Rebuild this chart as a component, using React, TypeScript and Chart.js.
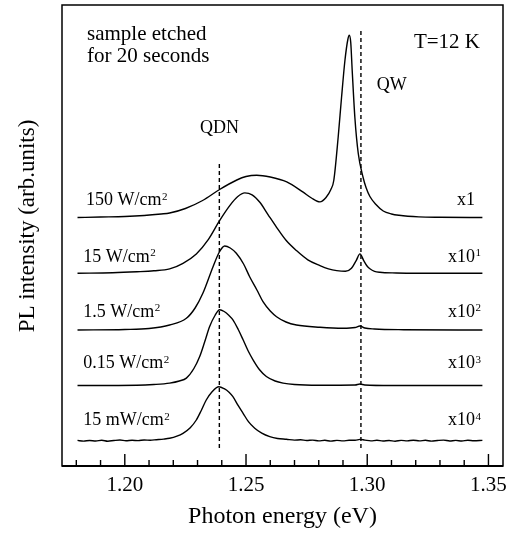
import React, { useEffect, useRef } from "react";
import { Chart, registerables } from "chart.js";

Chart.register(...registerables);

const FONT = '"Liberation Serif", "Times New Roman", Times, serif';

// ---- spectra: photon energy (eV) and PL intensity (arb. units, already multiplied by the factor) ----
const e150 = [1.1805, 1.19, 1.2, 1.208, 1.215, 1.2185, 1.225, 1.2321, 1.2391, 1.2462, 1.25, 1.2544, 1.26, 1.2668, 1.2734, 1.277, 1.2805, 1.283, 1.285, 1.2862, 1.288, 1.2894, 1.2908, 1.292, 1.2926, 1.2932, 1.2938, 1.2949, 1.2963, 1.2983, 1.2995, 1.3011, 1.3036, 1.3066, 1.31, 1.3131, 1.3213, 1.33, 1.3475];
const i150 = [0, 0.5, 1, 2, 3.5, 4.5, 9, 17, 28, 37.5, 41, 42.3, 40.5, 35.6, 25.6, 19.5, 15.6, 20, 28, 37, 80, 120, 157, 178, 182.3, 175, 147, 100, 64, 40, 30, 21, 13, 6.5, 3.5, 2.2, 0.6, 0.2, 0];

const e15 = [1.1805, 1.195, 1.205, 1.212, 1.2185, 1.224, 1.2295, 1.2345, 1.2391, 1.2433, 1.2465, 1.2495, 1.2525, 1.2557, 1.259, 1.2626, 1.2665, 1.2708, 1.2755, 1.2805, 1.284, 1.2874, 1.291, 1.2935, 1.2955, 1.297, 1.2985, 1.3, 1.3011, 1.303, 1.3052, 1.312, 1.32, 1.3475];
const i15 = [0, 0.5, 1.5, 2.5, 4.4, 10, 19.4, 34, 52.7, 67.7, 76.5, 80.4, 78.5, 71, 59, 46, 33, 22.7, 13.5, 7.7, 4.5, 2.7, 2, 5, 13, 19.4, 13, 7, 4.5, 2, 1, 0.3, 0, 0];

const e1p5 = [1.1805, 1.2, 1.21, 1.2185, 1.2254, 1.229, 1.2322, 1.2364, 1.239, 1.2412, 1.2435, 1.246, 1.249, 1.2515, 1.2545, 1.257, 1.26, 1.2626, 1.2665, 1.2708, 1.2805, 1.29, 1.295, 1.297, 1.299, 1.303, 1.315, 1.3475];
const i1p5 = [0, 0.5, 1.5, 5, 11.7, 22, 36.7, 63.3, 78, 84, 82, 76.7, 66, 53.3, 40, 28.3, 19, 13.3, 8, 5, 2.7, 1.7, 2.5, 4, 2, 1, 0.3, 0];

const e0p15 = [1.1805, 1.205, 1.212, 1.2185, 1.2225, 1.2254, 1.2285, 1.2309, 1.233, 1.235, 1.2372, 1.2391, 1.241, 1.243, 1.2446, 1.2468, 1.2488, 1.2508, 1.2529, 1.2555, 1.2584, 1.262, 1.2653, 1.27, 1.28, 1.295, 1.297, 1.299, 1.31, 1.3475];
const i0p15 = [0, 0.3, 1, 2.4, 4.5, 7.4, 17, 29, 44, 59, 70, 75.7, 74, 70, 65.7, 56, 45.7, 35, 25.7, 16, 9, 4.5, 2.4, 1, 0.3, 0.5, 1.5, 0.5, 0, 0];

const e15m = [1.1805, 1.183, 1.1855, 1.188, 1.1905, 1.193, 1.1955, 1.198, 1.2005, 1.203, 1.2055, 1.208, 1.2105, 1.213, 1.216, 1.2185, 1.2215, 1.224, 1.227, 1.2295, 1.2315, 1.2336, 1.236, 1.2388, 1.241, 1.243, 1.2446, 1.2468, 1.2488, 1.251, 1.2536, 1.2565, 1.2598, 1.263, 1.2667, 1.27, 1.2725, 1.275, 1.2775, 1.28, 1.2825, 1.285, 1.2875, 1.29, 1.2925, 1.295, 1.297, 1.299, 1.3015, 1.304, 1.3065, 1.309, 1.3115, 1.314, 1.3165, 1.319, 1.3215, 1.324, 1.3265, 1.329, 1.3315, 1.334, 1.3365, 1.339, 1.3415, 1.344, 1.3475];
const i15m = [0.3, -0.4, 0.2, -0.3, 0.5, -0.5, 0.2, 0.7, -0.1, 0.4, 0.1, 0.7, 0.5, 1.0, 1.6, 2.4, 4.5, 7.4, 13, 20.7, 30, 40.7, 49, 54, 52, 48.5, 44, 35, 27.4, 19, 12.4, 7.5, 4, 2.2, 1.4, 0.6, 0.9, 0.2, 0.6, -0.2, 0.4, -0.4, 0.3, -0.2, 0.4, 0.4, 1.3, 0.6, -0.2, 0.4, -0.3, 0.2, -0.5, 0.3, -0.2, 0.5, -0.2, 0.4, -0.4, 0.2, 0.6, -0.3, 0.3, -0.3, 0.4, -0.1, 0.3];

// vertical stacking offsets of the spectra (arb. units)
const offsets = [248.5, 192.7, 136, 80.5, 25.3];
const powerLabels = ["150 W/cm", "15 W/cm", "1.5 W/cm", "0.15 W/cm", "15 mW/cm"];
const factorBase = ["x1", "x10", "x10", "x10", "x10"];
const factorExp = ["", "1", "2", "3", "4"];

// peak markers (eV)
const qdnEnergy = 1.239;
const qwEnergy = 1.2974;

// axis ranges
const xMin = 1.1741;
const xMax = 1.356;
const yMin = 0;
const yMax = 461;

const spectra = [
  [e150, i150],
  [e15, i15],
  [e1p5, i1p5],
  [e0p15, i0p15],
  [e15m, i15m],
];

// annotation anchors in data coordinates
const powerLabelX = [1.18402, 1.18291, 1.18291, 1.18291, 1.18291];
const powerLabelY = [261, 204.3, 149.3, 97.7, 41];
const factorLabelX = 1.34445;

const overlay = {
  id: "overlay",
  afterDraw(chart: any) {
    const { ctx, chartArea: a, scales } = chart;
    const x = scales.x;
    const y = scales.y;
    ctx.save();
    ctx.strokeStyle = "#000";
    ctx.fillStyle = "#000";
    // frame
    ctx.lineWidth = 1.5;
    ctx.strokeRect(a.left, a.top, a.right - a.left, a.bottom - a.top);
    ctx.lineWidth = 2.2;
    ctx.beginPath();
    ctx.moveTo(a.left, a.bottom);
    ctx.lineTo(a.right, a.bottom);
    ctx.stroke();
    // inward tick marks
    ctx.lineWidth = 1.4;
    ctx.beginPath();
    x.ticks.forEach((t: any) => {
      const px = x.getPixelForValue(t.value);
      const major = Math.round(t.value * 100) % 5 === 0;
      ctx.moveTo(px, a.bottom);
      ctx.lineTo(px, a.bottom - (major ? 12 : 6));
    });
    ctx.stroke();

    const text = (s: string, sup: string, xv: number, yv: number, size: number, align: "left" | "right") => {
      const px = x.getPixelForValue(xv);
      const py = y.getPixelForValue(yv);
      ctx.font = `${size}px ${FONT}`;
      ctx.textBaseline = "alphabetic";
      ctx.textAlign = "left";
      const w = ctx.measureText(s).width;
      const start = align === "left" ? px : px - w;
      ctx.fillText(s, start, py);
      if (sup) {
        ctx.font = `${Math.round(size * 0.62)}px ${FONT}`;
        ctx.fillText(sup, start + w + 0.5, py - size * 0.3);
      }
    };

    text("sample etched", "", 1.18443, 426, 21, "left");
    text("for 20 seconds", "", 1.18443, 404.5, 21, "left");
    text("T=12 K", "", 1.34651, 418, 21, "right");
    text("QDN", "", 1.23104, 333.3, 18, "left");
    text("QW", "", 1.30391, 376, 18, "left");
    powerLabels.forEach((p, i) => text(p, "2", powerLabelX[i], powerLabelY[i], 18, "left"));
    factorBase.forEach((f, i) => text(f, factorExp[i], factorLabelX, powerLabelY[i], 18, "right"));

    // y-axis title
    ctx.translate(a.left - 34, (a.top + a.bottom) / 2 - 9.5);
    ctx.rotate(-Math.PI / 2);
    ctx.font = `23px ${FONT}`;
    ctx.textAlign = "center";
    ctx.textBaseline = "middle";
    ctx.fillText("PL intensity (arb.units)", 0, 0);
    ctx.restore();
  },
};

export default function App() {
  const ref = useRef<HTMLCanvasElement | null>(null);
  useEffect(() => {
    if (!ref.current) return;
    Chart.defaults.font.family = FONT;
    Chart.defaults.color = "#000";
    const datasets: any[] = spectra.map(([es, is], k) => ({
      data: es.map((e, i) => ({ x: e, y: is[i] + offsets[k] })),
      borderColor: "#000",
      borderWidth: 1.4,
      pointRadius: 0,
      showLine: true,
      fill: false,
      cubicInterpolationMode: "monotone",
    }));
    datasets.push({
      data: [
        { x: qdnEnergy, y: 18 },
        { x: qdnEnergy, y: 303 },
      ],
      borderColor: "#000",
      borderWidth: 1.4,
      borderDash: [4, 3],
      pointRadius: 0,
      showLine: true,
    });
    datasets.push({
      data: [
        { x: qwEnergy, y: 18 },
        { x: qwEnergy, y: 438 },
      ],
      borderColor: "#000",
      borderWidth: 1.4,
      borderDash: [4, 3],
      pointRadius: 0,
      showLine: true,
    });
    const chart = new Chart(ref.current, {
      type: "scatter",
      data: { datasets },
      options: {
        animation: false,
        responsive: false,
        devicePixelRatio: 1,
        layout: { padding: { left: 0, right: 8, top: 5, bottom: 0 } },
        plugins: { legend: { display: false }, tooltip: { enabled: false } },
        scales: {
          x: {
            type: "linear",
            min: xMin,
            max: xMax,
            afterFit: (s: any) => {
              s.height = 67;
              s.paddingLeft = 0;
              s.paddingRight = 0;
            },
            grid: { display: false, drawTicks: false },
            border: { display: false },
            ticks: {
              stepSize: 0.01,
              includeBounds: false,
              autoSkip: false,
              maxRotation: 0,
              minRotation: 0,
              padding: 7,
              color: "#000",
              font: { size: 21, family: FONT },
              callback: (v: any) => (Math.round(Number(v) * 100) % 5 === 0 ? Number(v).toFixed(2) : ""),
            },
            title: {
              display: true,
              text: "Photon energy (eV)",
              color: "#000",
              font: { size: 24, family: FONT, lineHeight: 1.2 },
              padding: { top: 0, bottom: 2 },
            },
          },
          y: {
            type: "linear",
            min: yMin,
            max: yMax,
            afterFit: (s: any) => {
              s.width = 62;
              s.paddingTop = 0;
              s.paddingBottom = 0;
            },
            grid: { display: false, drawTicks: false },
            border: { display: false },
            ticks: { display: false },
            title: { display: false },
          },
        },
      },
      plugins: [overlay],
    } as any);
    return () => chart.destroy();
  }, []);
  return (
    <div style={{ position: "absolute", left: 0, top: 0, width: 511, height: 533, background: "#fff" }}>
      <canvas ref={ref} width={511} height={533} style={{ width: 511, height: 533 }} />
    </div>
  );
}
